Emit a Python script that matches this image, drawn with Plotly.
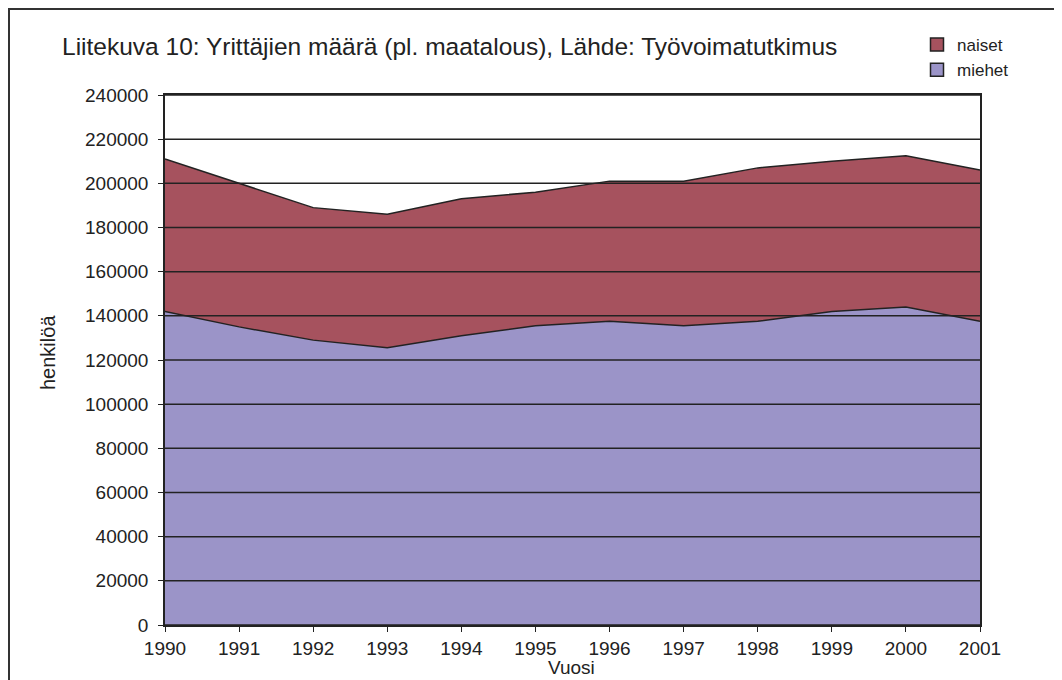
import plotly.graph_objects as go

years = list(range(1990, 2002))
miehet = [142000, 135000, 129000, 125500, 131000, 135500, 137500, 135500, 137500, 142000, 144000, 137500]
naiset = [69000, 65000, 60000, 60500, 62000, 60500, 63500, 65500, 69500, 68000, 68500, 68500]
y_ticks = list(range(0, 240001, 20000))

title_text = "Liitekuva 10: Yrittäjien määrä (pl. maatalous), Lähde: Työvoimatutkimus"
c_miehet = "rgb(155,148,200)"
c_naiset = "rgb(166,82,94)"
dark = "#222222"
font_main = "Liberation Sans, Arial, sans-serif"

# page has an 8px body margin; figure sized to fill the rest of the window
OFF = 8
W, H = 1062 - OFF, 680 - OFF
PL, PR, PT, PB = 165, 980, 95, 625          # plot area in page pixels
L, T = PL - OFF, PT - OFF
R, B = 1062 - PR, 680 - PB
pw, ph = PR - PL, PB - PT

def px_x(x):
    return (x - PL) / pw

def px_y(y):
    return (PB - y) / ph

fig = go.Figure()
fig.add_trace(go.Scatter(x=years, y=miehet, stackgroup="s", mode="lines",
                         line=dict(color=dark, width=1.5), fillcolor=c_miehet,
                         name="miehet", showlegend=False, hoverinfo="x+y"))
fig.add_trace(go.Scatter(x=years, y=naiset, stackgroup="s", mode="lines",
                         line=dict(color=dark, width=1.5), fillcolor=c_naiset,
                         name="naiset", showlegend=False, hoverinfo="x+y"))
# legend entries with square markers
for nm, col in [("miehet", c_miehet), ("naiset", c_naiset)]:
    fig.add_trace(go.Scatter(x=[None], y=[None], mode="markers", name=nm,
                             marker=dict(symbol="square", size=13, color=col,
                                         line=dict(color=dark, width=1.5))))

# grid lines drawn above the filled areas
for v in y_ticks:
    fig.add_shape(type="line", xref="paper", x0=0, x1=1, yref="y", y0=v, y1=v,
                  line=dict(color=dark, width=1.5), layer="above")

# outer frame
fig.add_shape(type="rect", xref="paper", yref="paper",
              x0=px_x(9), x1=px_x(1059), y0=px_y(700), y1=px_y(9),
              line=dict(color="#333333", width=2), layer="below")

fig.update_layout(
    width=W, height=H,
    margin=dict(l=L, r=R, t=T, b=B),
    paper_bgcolor="white", plot_bgcolor="white",
    font=dict(family=font_main, color=dark),
    title=dict(text=title_text, x=(62 - OFF) / W, xref="container", xanchor="left",
               y=1 - (46 - OFF) / H, yref="container", yanchor="middle",
               font=dict(family=font_main, size=24.5, color=dark)),
    showlegend=True,
    legend=dict(x=px_x(917), xanchor="left", y=px_y(27), yanchor="top",
                traceorder="reversed", font=dict(size=17, color=dark),
                bgcolor="rgba(0,0,0,0)", itemwidth=30, tracegroupgap=0),
    xaxis=dict(range=[1990, 2001], tickmode="array", tickvals=years,
               ticktext=[str(y) for y in years],
               showgrid=False, zeroline=False, showline=True, mirror=True,
               linecolor=dark, linewidth=1.5, ticks="outside", ticklen=5,
               tickcolor=dark, tickwidth=1.2, ticklabelstandoff=0,
               tickfont=dict(size=19, color=dark)),
    yaxis=dict(range=[0, 240000], tickmode="array", tickvals=y_ticks,
               ticktext=[str(v) for v in y_ticks],
               showgrid=False, zeroline=False, showline=True, mirror=True,
               linecolor=dark, linewidth=1.5, ticks="outside", ticklen=5,
               tickcolor=dark, tickwidth=1.2, ticklabelstandoff=6,
               tickfont=dict(size=19, color=dark)),
    annotations=[
        dict(text="henkilöä", xref="paper", yref="paper", x=px_x(48), y=px_y(353),
             textangle=-90, showarrow=False, font=dict(size=20, color=dark),
             xanchor="center", yanchor="middle"),
        dict(text="Vuosi", xref="paper", yref="paper", x=px_x(571), y=px_y(667),
             showarrow=False, font=dict(size=19, color=dark),
             xanchor="center", yanchor="middle"),
    ],
)

fig.write_html("out.html")
